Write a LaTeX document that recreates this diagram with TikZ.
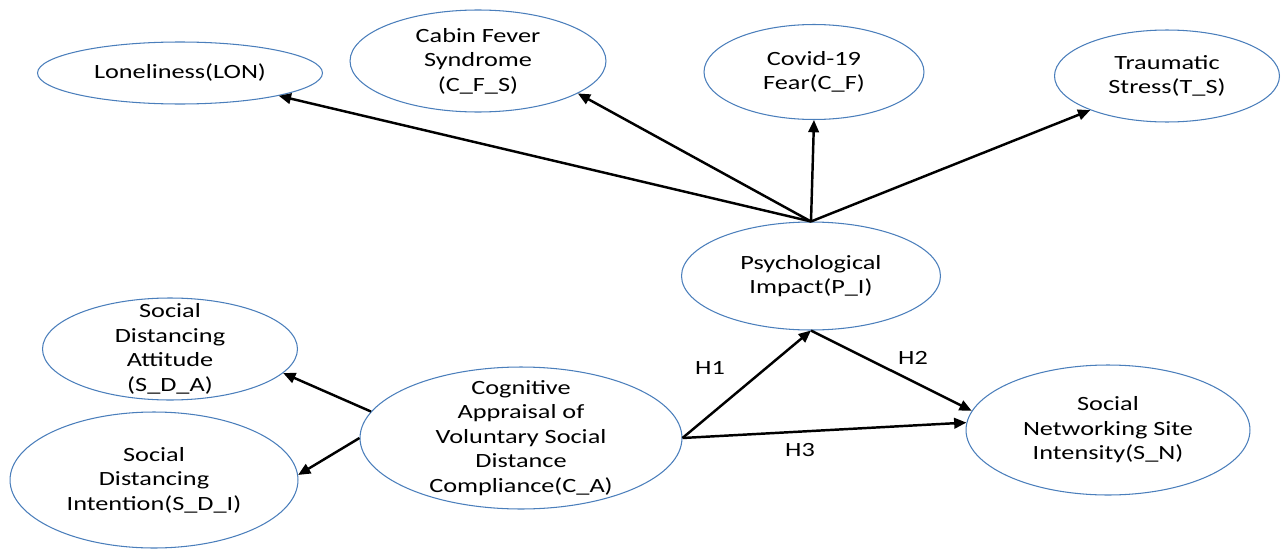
\documentclass[tikz,border=0pt]{standalone}
\usepackage{fontspec}
\setmainfont{Carlito}[FakeStretch=1.3]
\usetikzlibrary{shapes,arrows.meta}
\definecolor{steel}{RGB}{74, 126, 187}
\tikzset{construct/.style={ellipse,draw=steel,line width=0.6pt,inner sep=-0.5cm,align=center,font=\fontsize{11.5}{14}\selectfont}}
\tikzset{blackvector/.style={-{Triangle[length=7pt,width=6pt]},line width=1.4pt,black}}
\tikzset{hlabel/.style={font=\fontsize{11.5}{14}\selectfont}}

\begin{document}
\begin{tikzpicture}[x=0.02cm,y=-0.02cm]

	\useasboundingbox (0,0) rectangle (1285,551);
	\node[construct,minimum width=5.7cm,minimum height=1.24cm] (lon) at (180,73) {Loneliness(LON)};
	\node[construct,minimum width=5.12cm,minimum height=2.04cm] (cfs) at (478,61) {Cabin Fever\\Syndrome\\(C\_F\_S)};
	\node[construct,minimum width=4.4cm,minimum height=1.9cm] (cf) at (814,72) {Covid-19\\Fear(C\_F)};
	\node[construct,minimum width=4.5cm,minimum height=1.84cm] (ts) at (1167,76) {Traumatic\\Stress(T\_S)};
	\node[construct,minimum width=5.18cm,minimum height=2.16cm] (pi) at (811,276) {Psychological\\Impact(P\_I)};
	\node[construct,minimum width=5.1cm,minimum height=2.04cm] (sda) at (170,349) {Social\\Distancing\\Attitude\\(S\_D\_A)};
	\node[construct,minimum width=5.76cm,minimum height=2.72cm] (sdi) at (154,480) {Social\\Distancing\\Intention(S\_D\_I)};
	\node[construct,minimum width=6.44cm,minimum height=2.84cm] (ca) at (521,438) {Cognitive\\Appraisal of\\Voluntary Social\\Distance\\Compliance(C\_A)};
	\node[construct,minimum width=5.68cm,minimum height=2.6cm] (sn) at (1108,430) {Social\\Networking Site\\Intensity(S\_N)};

	\draw[blackvector] (pi.north) -- (lon.-13);
	\draw[blackvector] (pi.north) -- (cfs.-18);
	\draw[blackvector] (pi.north) -- (cf.south);
	\draw[blackvector] (pi.north) -- (ts.-156);
	\draw[blackvector] (ca.170) -- (sda.-12);
	\draw[blackvector] (ca.west) -- (sdi.2);
	\draw[blackvector] (ca.east) -- (pi.south);
	\draw[blackvector] (pi.south) -- (sn.172);
	\draw[blackvector] (ca.east) -- (sn.177);

	\node[hlabel] (h1) at (710,368) {H1};
	\node[hlabel] (h2) at (913,358) {H2};
	\node[hlabel] (h3) at (800,450) {H3};
\end{tikzpicture}
\end{document}
